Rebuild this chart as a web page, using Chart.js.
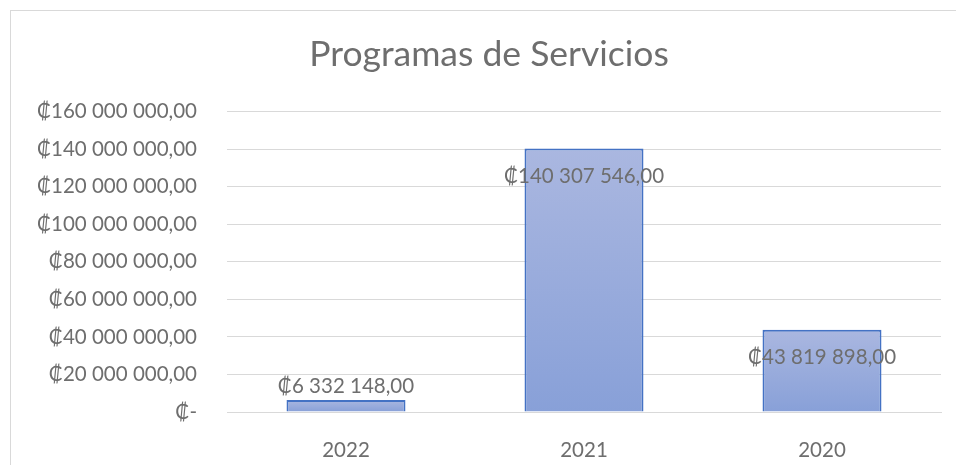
<!DOCTYPE html>
<html>
<head>
<meta charset="utf-8">
<script src="https://cdn.jsdelivr.net/npm/chart.js@4"></script>
<style>
  html, body { margin: 0; padding: 0; background: #fff; overflow: hidden; }
  #box { position: absolute; left: 10px; top: 10px; width: 958px; height: 470px; border: 1px solid #d9d9d9; box-sizing: border-box; }
  canvas { display: block; }
</style>
</head>
<body>
<div id="box"><canvas id="chart" width="956" height="468"></canvas></div>
<script>
const years = ['2022', '2021', '2020'];
const amounts = [6332148, 140307546, 43819898];
const yTicks = [0, 20000000, 40000000, 60000000, 80000000, 100000000, 120000000, 140000000, 160000000];

const FONT = 'Lato, "DejaVu Sans", sans-serif';
const TEXT = '#6e6e6e';

function colones(v) {
  if (v === 0) return '₡-';
  const parts = v.toFixed(2).split('.');
  const whole = parts[0].replace(/\B(?=(\d{3})+(?!\d))/g, ' ');
  return '₡' + whole + ',' + parts[1];
}

const barLabels = {
  id: 'barLabels',
  afterDatasetsDraw(chart) {
    const ctx = chart.ctx;
    const meta = chart.getDatasetMeta(0);
    ctx.save();
    ctx.font = '20.5px ' + FONT;
    ctx.fillStyle = TEXT;
    ctx.textAlign = 'center';
    ctx.textBaseline = 'middle';
    meta.data.forEach((bar, i) => {
      const h = bar.base - bar.y;
      const y = h > 40 ? bar.y + 28 : bar.y - 14;
      ctx.fillText(colones(amounts[i]), bar.x, y);
    });
    ctx.restore();
  }
};

const ctx = document.getElementById('chart').getContext('2d');
new Chart(ctx, {
  type: 'bar',
  data: {
    labels: years,
    datasets: [{
      data: amounts,
      backgroundColor: (c) => {
        const chart = c.chart;
        const area = chart.chartArea;
        if (!area || c.dataIndex === undefined) return '#98acdc';
        const yS = chart.scales.y;
        const top = yS.getPixelForValue(amounts[c.dataIndex]);
        const bottom = yS.getPixelForValue(0);
        const g = chart.ctx.createLinearGradient(0, top, 0, bottom);
        g.addColorStop(0, '#aab7e0');
        g.addColorStop(1, '#88a0d8');
        return g;
      },
      borderColor: '#4472c4',
      borderWidth: 2,
      borderSkipped: 'bottom',
      barPercentage: 0.5,
      categoryPercentage: 1
    }]
  },
  options: {
    responsive: false,
    animation: false,
    layout: { padding: 0 },
    plugins: {
      legend: { display: false },
      tooltip: { enabled: false },
      title: {
        display: true,
        text: 'Programas de Servicios',
        color: TEXT,
        font: { family: FONT, size: 35.5, weight: 'normal' },
        padding: { top: 22, bottom: 36 }
      }
    },
    scales: {
      x: {
        grid: { display: false },
        border: { display: true, color: '#d9d9d9', width: 1 },
        ticks: { color: TEXT, font: { family: FONT, size: 20.5 }, padding: 18 },
        afterFit: (s) => { s.height = 67; }
      },
      y: {
        min: 0,
        max: 160000000,
        afterBuildTicks: (s) => { s.ticks = yTicks.map(v => ({ value: v })); },
        grid: { color: '#d9d9d9', lineWidth: 1, drawTicks: false },
        border: { display: false },
        ticks: { color: TEXT, font: { family: FONT, size: 20.5 }, padding: 30, callback: (v) => colones(v) },
        afterFit: (s) => { s.width = 216; }
      },
      // empty right-hand strip so the plot stops short of the frame
      yRight: {
        position: 'right',
        min: 0,
        max: 160000000,
        grid: { display: false },
        border: { display: false },
        ticks: { display: false },
        afterFit: (s) => { s.width = 26; }
      }
    }
  },
  plugins: [barLabels]
});
</script>
</body>
</html>
